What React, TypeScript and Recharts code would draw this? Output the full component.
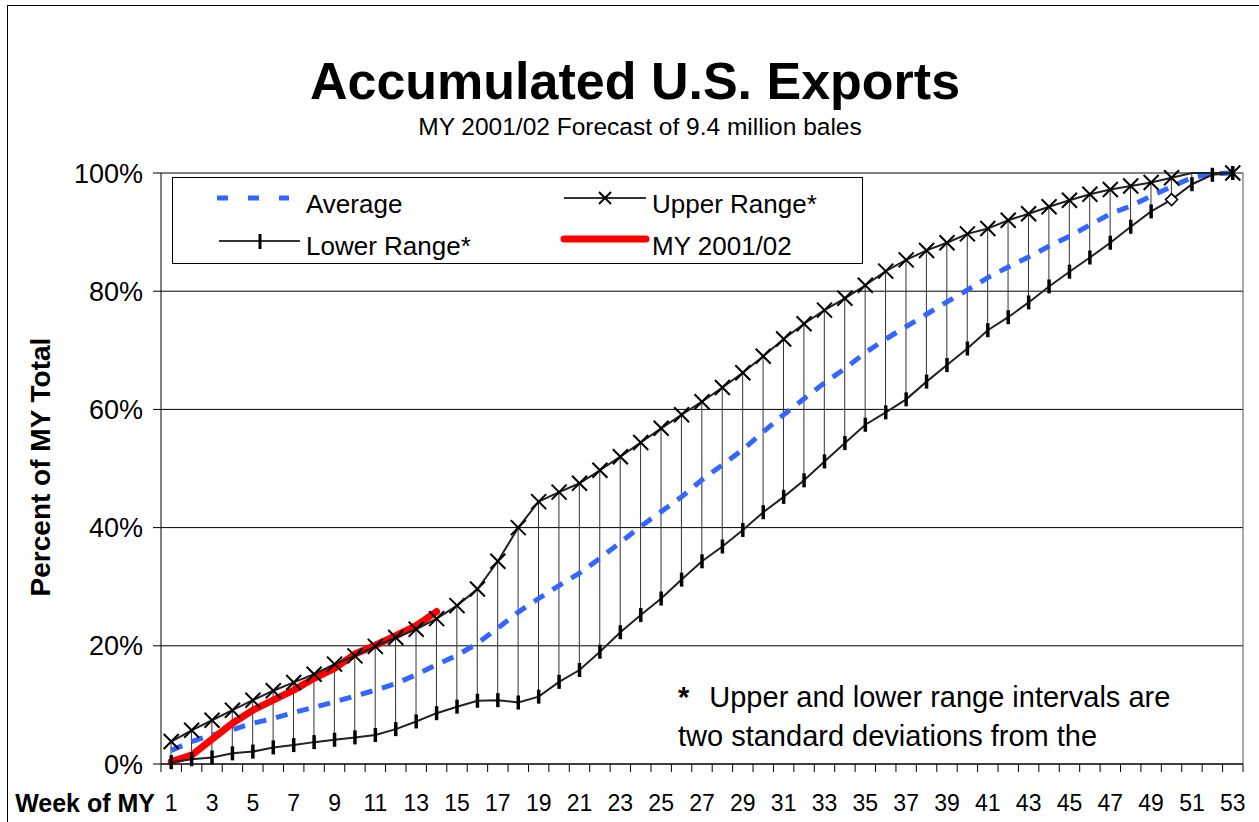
import { ComposedChart, Line, Bar, XAxis, YAxis, CartesianGrid } from 'recharts'

// week of marketing year
const weeks = [
  1, 2, 3, 4, 5, 6, 7, 8, 9, 10, 11, 12, 13, 14, 15, 16, 17, 18, 19, 20,
  21, 22, 23, 24, 25, 26, 27, 28, 29, 30, 31, 32, 33, 34, 35, 36, 37, 38, 39, 40,
  41, 42, 43, 44, 45, 46, 47, 48, 49, 50, 51, 52, 53,
]

// percent of MY total
const upperRange = [
  3.8, 5.7, 7.4, 9.1, 10.8, 12.4, 13.8, 15.2, 16.9, 18.3, 19.9, 21.4, 22.8, 24.6, 26.8, 29.6, 34.3, 40.0, 44.4, 46.0,
  47.5, 49.7, 52.0, 54.4, 56.8, 59.1, 61.3, 63.7, 66.2, 69.0, 71.9, 74.5, 76.8, 78.8, 81.0, 83.4, 85.3, 86.9, 88.2, 89.7,
  90.6, 92.0, 93.1, 94.3, 95.4, 96.4, 97.2, 97.8, 98.4, 99.2, 100, 100, 100,
]
const lowerRange = [
  0.3, 0.8, 1.1, 1.8, 2.1, 2.8, 3.2, 3.7, 4.1, 4.5, 4.9, 5.9, 7.2, 8.6, 9.7, 10.7, 10.8, 10.4, 11.4, 13.9,
  15.9, 19.0, 22.3, 25.2, 28.0, 31.2, 34.3, 36.8, 39.6, 42.6, 45.2, 48.0, 51.2, 54.3, 57.4, 59.5, 61.7, 64.7, 67.5, 70.3,
  73.4, 75.6, 78.1, 80.8, 83.3, 85.7, 88.2, 90.9, 93.5, 95.5, 98.1, 99.7, 100,
]
const average = [
  2.3, 3.8, 4.9, 5.8, 6.9, 7.7, 8.7, 9.6, 10.5, 11.5, 12.5, 13.6, 15.1, 16.8, 18.4, 20.4, 23.0, 25.7, 28.0, 30.2,
  32.3, 34.8, 37.5, 40.2, 42.7, 45.2, 48.1, 50.6, 53.2, 56.2, 59.1, 61.8, 64.5, 66.9, 69.6, 71.9, 74.0, 76.1, 78.2, 80.2,
  82.3, 84.1, 85.8, 87.6, 89.3, 91.2, 93.1, 94.4, 96.1, 97.7, 99.2, 99.9, 100,
]
const my2001 = [0.4, 1.5, 4.2, 6.9, 9.1, 10.8, 12.5, 14.5, 16.2, 18.6, 20.1, 21.7, 23.4, 25.8]

const yTicks = [0, 20, 40, 60, 80, 100]

const data = weeks.map((w, i) => ({
  week: w,
  upper: upperRange[i],
  lower: lowerRange[i],
  average: average[i],
  current: i < my2001.length ? my2001[i] : null,
  range: [lowerRange[i], upperRange[i]],
}))

// layout
const W = 1259
const H = 822
const PLOT_LEFT = 161
const PLOT_RIGHT = 1243
const PLOT_TOP = 173
const PLOT_BOTTOM = 764
const BAND = (PLOT_RIGHT - PLOT_LEFT) / weeks.length
const FONT = '"Liberation Sans", Arial, sans-serif'

// excel leaves these markers off / uses a diamond here
const upperNoMarker = [51, 52]
const lowerDiamond = 50

function RangeStick(props: any) {
  const { x, y, width, height } = props
  if (x == null || y == null) return <g />
  const cx = x + width / 2
  const top = Math.min(y, y + height)
  const bot = Math.max(y, y + height)
  return <line x1={cx} x2={cx} y1={top} y2={bot} stroke="#333" strokeWidth={1} />
}

function XMark(props: any) {
  const { cx, cy, index, payload } = props
  if (cx == null || cy == null || upperNoMarker.includes(payload.week)) return <g key={`u${index}`} />
  const s = 7.5
  return (
    <g key={`u${index}`}>
      <line x1={cx - s} y1={cy - s} x2={cx + s} y2={cy + s} stroke="#000" strokeWidth={2} />
      <line x1={cx - s} y1={cy + s} x2={cx + s} y2={cy - s} stroke="#000" strokeWidth={2} />
    </g>
  )
}

function BarMark(props: any) {
  const { cx, cy, index, payload } = props
  if (cx == null || cy == null) return <g key={`l${index}`} />
  if (payload.week === lowerDiamond) {
    const d = 6
    return (
      <path key={`l${index}`} d={`M${cx},${cy - d} L${cx + d},${cy} L${cx},${cy + d} L${cx - d},${cy} Z`}
        fill="#fff" stroke="#000" strokeWidth={1.5} />
    )
  }
  return <line key={`l${index}`} x1={cx} x2={cx} y1={cy - 7} y2={cy + 7} stroke="#000" strokeWidth={3.5} />
}

function WeekTick(props: any) {
  const { x, payload } = props
  const wk = payload.value
  const half = BAND / 2
  return (
    <g>
      <line x1={x - half} x2={x - half} y1={PLOT_BOTTOM} y2={PLOT_BOTTOM + 8} stroke="#000" />
      {wk === weeks[weeks.length - 1] && (
        <line x1={x + half} x2={x + half} y1={PLOT_BOTTOM} y2={PLOT_BOTTOM + 8} stroke="#000" />
      )}
      {wk % 2 === 1 && (
        <text x={x} y={PLOT_BOTTOM + 47} textAnchor="middle" fontSize={23} fontFamily={FONT} fill="#000">
          {wk}
        </text>
      )}
    </g>
  )
}

function Overlay() {
  return (
    <svg width={W} height={H} style={{ position: 'absolute', left: 0, top: 0, pointerEvents: 'none' }}
      fontFamily={FONT}>
      <line x1={7.5} x2={7.5} y1={5} y2={H} stroke="#000" />
      <line x1={7} x2={W} y1={5.5} y2={5.5} stroke="#000" />

      <text x={635} y={99} textAnchor="middle" fontSize={52} fontWeight="bold">Accumulated U.S. Exports</text>
      <text x={640} y={135} textAnchor="middle" fontSize={24.5}>MY 2001/02 Forecast of 9.4 million bales</text>

      <text x={50} y={467} transform="rotate(-90 50 467)" textAnchor="middle" fontSize={28} fontWeight="bold">
        Percent of MY Total
      </text>
      <text x={155} y={812} textAnchor="end" fontSize={25} fontWeight="bold">Week of MY</text>

      {/* legend */}
      <rect x={172.5} y={177.5} width={690} height={86} fill="#fff" stroke="#000" />
      <line x1={217} x2={289} y1={198} y2={198} stroke="#3366ff" strokeWidth={5} strokeDasharray="11 20" />
      <text x={306} y={213} fontSize={26}>Average</text>
      <line x1={564} x2={646} y1={198} y2={198} stroke="#333" strokeWidth={2} />
      <line x1={599} y1={192} x2={611} y2={204} stroke="#000" strokeWidth={2} />
      <line x1={599} y1={204} x2={611} y2={192} stroke="#000" strokeWidth={2} />
      <text x={652} y={213} fontSize={26}>Upper Range*</text>
      <line x1={219} x2={300} y1={241} y2={241} stroke="#333" strokeWidth={2} />
      <line x1={260} x2={260} y1={234} y2={249} stroke="#000" strokeWidth={3} />
      <text x={306} y={255} fontSize={26}>Lower Range*</text>
      <line x1={564} x2={646} y1={239} y2={239} stroke="#ff0000" strokeWidth={7} strokeLinecap="round" />
      <text x={652} y={255} fontSize={26}>MY 2001/02</text>

      <text x={678} y={707} fontSize={29}>
        <tspan fontWeight="bold">*</tspan>
        <tspan dx={20}>Upper and lower range intervals are</tspan>
      </text>
      <text x={678} y={746} fontSize={29}>two standard deviations from the</text>
    </svg>
  )
}

export default function App() {
  return (
    <div style={{ position: 'absolute', left: 0, top: 0, width: W, height: H, background: '#fff' }}>
      <ComposedChart width={W} height={H} data={data} margin={{ top: PLOT_TOP, right: 0, bottom: 0, left: 0 }}>
        <CartesianGrid vertical={false} stroke="#000" />
        <XAxis dataKey="week" interval={0} height={H - PLOT_BOTTOM} tickLine={false}
          axisLine={{ stroke: '#000' }} tick={<WeekTick />} />
        <YAxis width={PLOT_LEFT} domain={[0, 100]} ticks={yTicks} tickFormatter={(v: number) => `${v}%`}
          tick={{ fontSize: 27, fill: '#000', fontFamily: FONT }} tickSize={8} tickMargin={10}
          axisLine={{ stroke: '#000' }} tickLine={{ stroke: '#000' }} />
        <YAxis yAxisId="right" orientation="right" width={W - PLOT_RIGHT} domain={[0, 100]}
          tick={false} tickLine={false} axisLine={{ stroke: '#555' }} />
        <Bar dataKey="range" shape={<RangeStick />} isAnimationActive={false} />
        <Line dataKey="average" type="linear" stroke="#3366ff" strokeWidth={5} strokeDasharray="12 10"
          dot={false} activeDot={false} isAnimationActive={false} />
        <Line dataKey="current" type="linear" stroke="#ff0000" strokeWidth={7} strokeLinecap="round"
          strokeLinejoin="round" dot={false} activeDot={false} connectNulls={false} isAnimationActive={false} />
        <Line dataKey="lower" type="linear" stroke="#222" strokeWidth={2} dot={BarMark} activeDot={false}
          isAnimationActive={false} />
        <Line dataKey="upper" type="linear" stroke="#222" strokeWidth={2} dot={XMark} activeDot={false}
          isAnimationActive={false} />
      </ComposedChart>
      <Overlay />
    </div>
  )
}
